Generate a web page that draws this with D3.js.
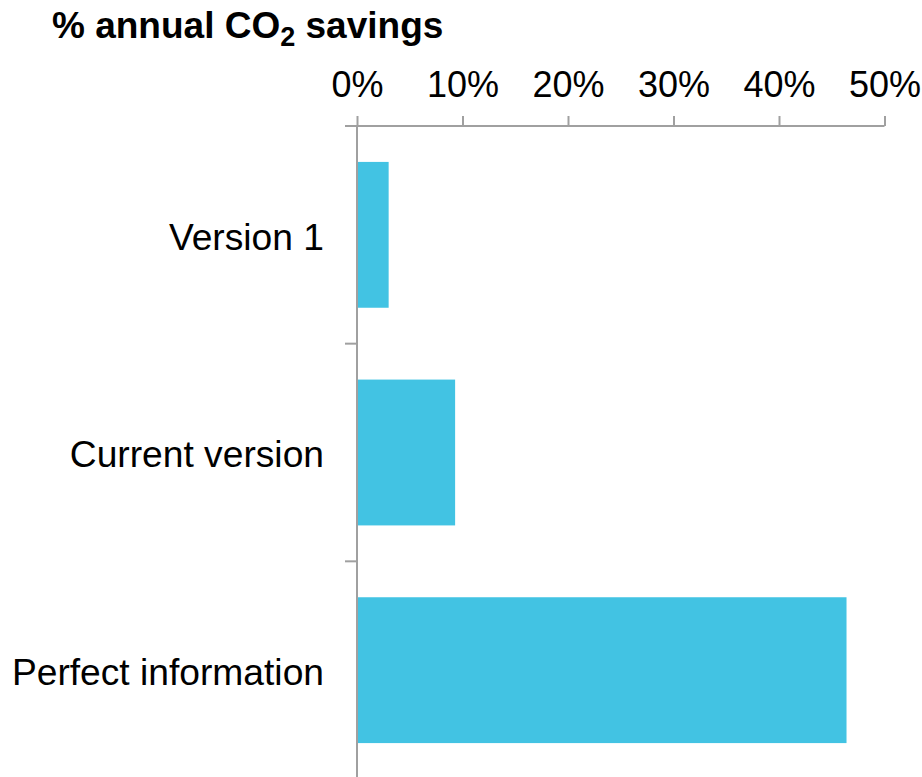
<!DOCTYPE html>
<html>
<head>
<meta charset="utf-8">
<script src="https://cdn.jsdelivr.net/npm/d3@7/dist/d3.min.js"></script>
<style>
  html, body { margin: 0; padding: 0; background: #fff; }
  svg { display: block; }
</style>
</head>
<body>
<svg id="chart" width="922" height="777"></svg>
<script>
const categories = ["Version 1", "Current version", "Perfect information"];
const savings = [3.0, 9.3, 46.4];
const xTicks = [0, 10, 20, 30, 40, 50];

const svg = d3.select("#chart");
const font = "Liberation Sans, Arial, Helvetica, sans-serif";
const axisColor = "#a0a0a0";
const barColor = "#42c3e3";

const x0 = 357, x1 = 884.5;
const yTop = 126, yBottom = 779;

const x = d3.scaleLinear().domain([0, 50]).range([x0, x1]);
const y = d3.scaleBand().domain(categories).range([yTop, yBottom])
  .paddingInner(0.33).paddingOuter(0.165);

// title
const title = svg.append("text")
  .attr("x", 52).attr("y", 38)
  .attr("font-family", font).attr("font-weight", "bold")
  .attr("font-size", 37).attr("fill", "#000");
title.append("tspan").text("% annual CO");
title.append("tspan").attr("font-size", 27).attr("dy", 8).text("2");
title.append("tspan").attr("dy", -8).text(" savings");

// bars
svg.append("g").selectAll("rect").data(categories).join("rect")
  .attr("x", x(0))
  .attr("y", d => y(d))
  .attr("width", (d, i) => x(savings[i]) - x(0))
  .attr("height", y.bandwidth())
  .attr("fill", barColor);

// top axis
const xAxis = d3.axisTop(x).tickValues(xTicks).tickFormat(d => d + "%")
  .tickSize(10).tickPadding(19).tickSizeOuter(0);
const gx = svg.append("g").attr("transform", `translate(0,${yTop})`).call(xAxis);
gx.select(".domain").attr("stroke", axisColor).attr("stroke-width", 2)
  .attr("d", `M${x0 - 12},0H${x1}`);
gx.selectAll(".tick line").attr("stroke", axisColor).attr("stroke-width", 2);
gx.selectAll(".tick text").attr("font-family", font).attr("font-size", 36)
  .attr("fill", "#000");

// left axis: line + boundary ticks
const gy = svg.append("g");
gy.append("line").attr("x1", x0).attr("x2", x0).attr("y1", yTop).attr("y2", 777)
  .attr("stroke", axisColor).attr("stroke-width", 2);
const boundaries = categories.slice(1).map(c => y(c) - y.step() * y.paddingInner() / 2);
gy.selectAll("line.b").data(boundaries).join("line").attr("class", "b")
  .attr("x1", x0 - 12).attr("x2", x0).attr("y1", d => d).attr("y2", d => d)
  .attr("stroke", axisColor).attr("stroke-width", 2);

// category labels
gy.selectAll("text").data(categories).join("text")
  .attr("x", 324)
  .attr("y", d => y(d) + y.bandwidth() / 2)
  .attr("dy", "0.4em")
  .attr("text-anchor", "end")
  .attr("font-family", font).attr("font-size", 37.2).attr("fill", "#000")
  .text(d => d);
</script>
</body>
</html>
